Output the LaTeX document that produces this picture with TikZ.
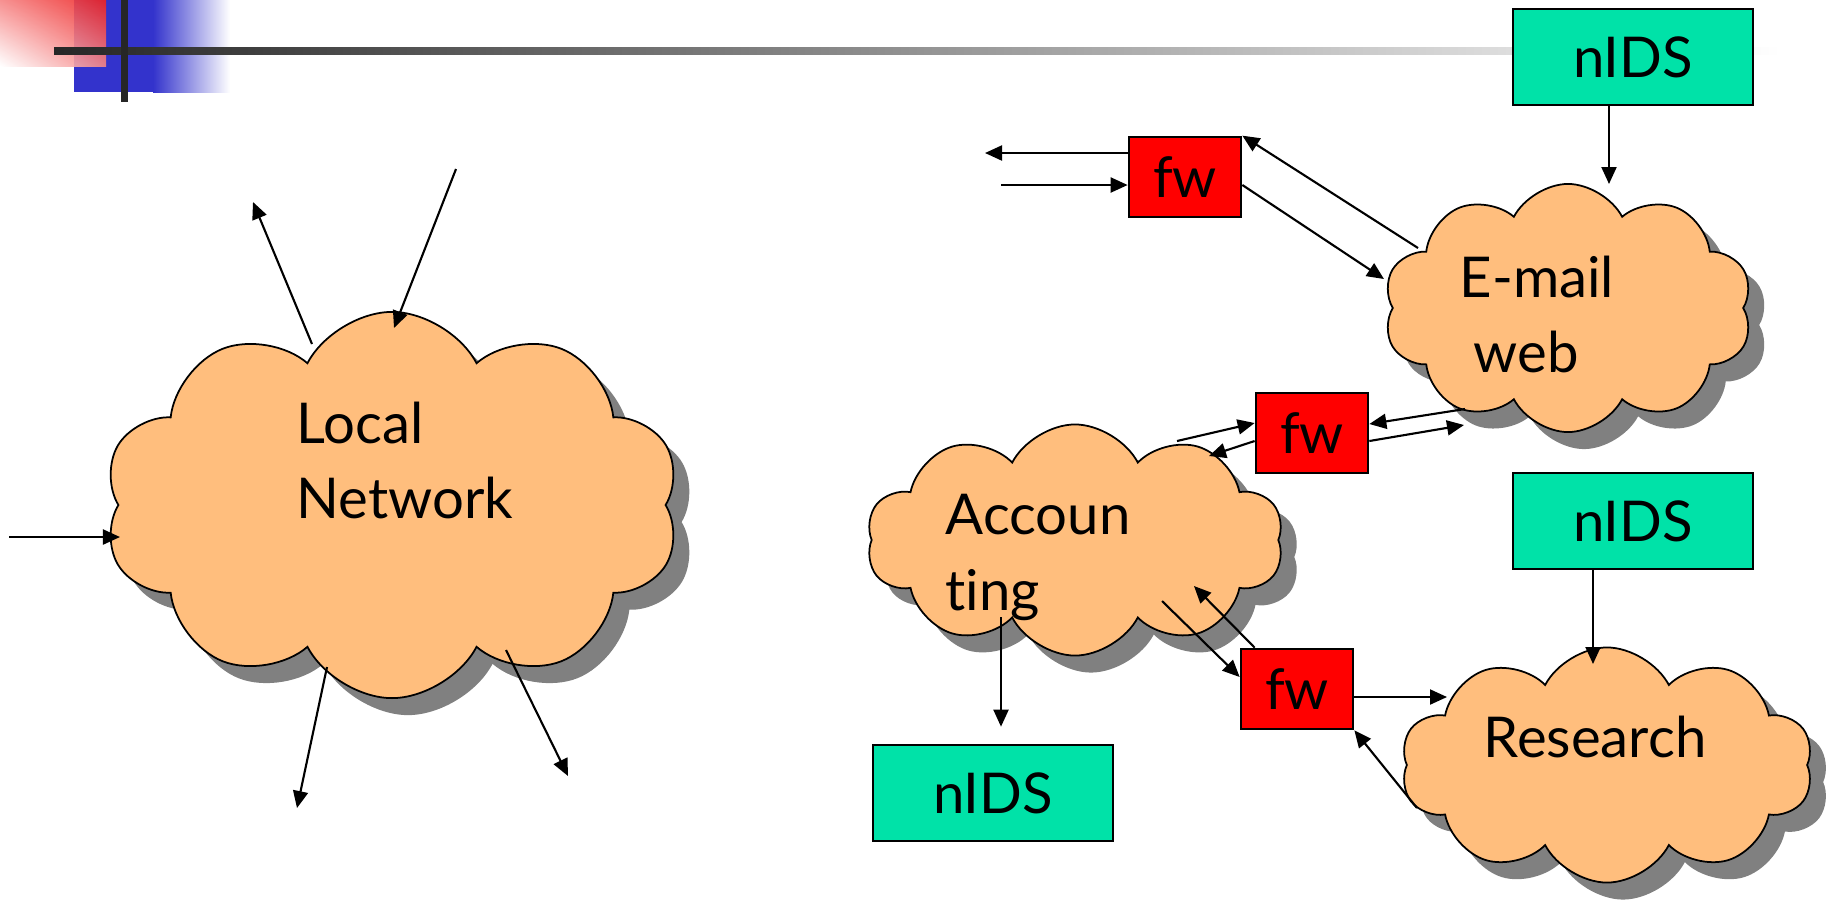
\documentclass[tikz,border=0pt]{standalone}
\usepackage{fontspec}
\setmainfont{Lato}[Ligatures=NoCommon]
\usetikzlibrary{shapes.symbols,shadows,shadings,arrows.meta}
\definecolor{puff}{RGB}{255,190,125}
\definecolor{idsgreen}{RGB}{0,226,168}
\definecolor{hdrblue}{RGB}{51,51,204}
\definecolor{hdrred}{RGB}{238,34,34}
\newcommand{\lblfont}{\fontsize{16}{19}\selectfont}

\begin{document}
\begin{tikzpicture}[x=0.01cm,y=-0.01cm,>={Triangle[length=0.17cm,width=0.15cm]},
  net/.style={cloud,cloud puffs=10,cloud puff arc=125,cloud ignores aspect,draw,line width=0.5pt,fill=puff,
    drop shadow={shadow xshift=0.16cm,shadow yshift=-0.17cm,fill=black!50,opacity=1}},
  fwbox/.style={draw,line width=0.75pt,fill=red,minimum width=1.12cm,minimum height=0.8cm,font=\lblfont},
  idsbox/.style={draw,line width=0.75pt,fill=idsgreen,minimum width=2.4cm,minimum height=0.96cm,font=\lblfont},
  lbl/.style={anchor=base west,inner sep=0pt,font=\lblfont},
  conn/.style={->,line width=0.6pt}]
  \useasboundingbox (0,0) rectangle (1839,902);
  % title bar
  \fill[hdrblue] (74,0) rectangle (153,92);
  \shade[left color=hdrblue,right color=white] (153,0) rectangle (230,92);
  \shade[lower left=white,upper right=hdrred,upper left=hdrred!55,lower right=hdrred!55,opacity=0.9] (0,0) rectangle (106,66);
  \shade[left color=black!85,right color=white] (54,47) rectangle (1780,54);
  \fill[black!85] (121,0) rectangle (128,102);

  % networks
  \node[net,minimum width=5.76cm,minimum height=3.86cm] (lan) at (392,505) {};
  \node[net,minimum width=3.69cm,minimum height=2.48cm] (mail) at (1568,308) {};
  \node[net,minimum width=4.17cm,minimum height=2.31cm] (acc) at (1075,540) {};
  \node[net,minimum width=4.12cm,minimum height=2.35cm] (res) at (1607,765) {};
  \node[lbl] (lan1) at (296,443) {Local};
  \node[lbl] (lan2) at (296,518) {Network};
  \node[lbl] (mail1) at (1459,297) {E-mail};
  \node[lbl] (mail2) at (1473,372) {web};
  \node[lbl] (acc1) at (945,534) {Accoun};
  \node[lbl] (acc2) at (945,610) {ting};
  \node[lbl] (res1) at (1483,757) {Research};

  % firewalls and sensors
  \node[fwbox] (fw1) at (1185,177) {fw};
  \node[fwbox] (fw2) at (1312,433) {fw};
  \node[fwbox] (fw3) at (1297,689) {fw};
  \node[idsbox] (ids1) at (1633,57) {nIDS};
  \node[idsbox] (ids2) at (1633,521) {nIDS};
  \node[idsbox] (ids3) at (993,793) {nIDS};

  % loose ends
  \coordinate (lanup) at (253,202);
  \coordinate (lanin) at (456,169);
  \coordinate (lanleft) at (9,537);
  \coordinate (landn1) at (297,808);
  \coordinate (landn2) at (568,776);
  \coordinate (fwout) at (985,153);
  \coordinate (fwin) at (1001,185);

  \draw[conn] ([shift={(-80,-161)}]lan.center) -- (lanup);
  \draw[conn] (lanin) -- ([shift={(2,-177)}]lan.center);
  \draw[conn] (lanleft) -- ([shift={(-272,32)}]lan.center);
  \draw[conn] ([shift={(-65,162)}]lan.center) -- (landn1);
  \draw[conn] ([shift={(114,145)}]lan.center) -- (landn2);

  \draw[conn] ([shift={(0,-24)}]fw1.west) -- (fwout);
  \draw[conn] (fwin) -- ([shift={(0,8)}]fw1.west);
  \draw[conn] ([shift={(-150,-60)}]mail.center) -- (fw1.north east);
  \draw[conn] ([shift={(0,8)}]fw1.east) -- ([shift={(-184,-29)}]mail.center);
  \draw[conn] ([shift={(-24,0)}]ids1.south) -- ([shift={(41,-124)}]mail.center);

  \draw[conn] ([shift={(-103,101)}]mail.center) -- ([shift={(0,-9)}]fw2.east);
  \draw[conn] ([shift={(0,8)}]fw2.east) -- ([shift={(-104,117)}]mail.center);
  \draw[conn] ([shift={(102,-99)}]acc.center) -- ([shift={(0,-10)}]fw2.west);
  \draw[conn] ([shift={(0,8)}]fw2.west) -- ([shift={(134,-84)}]acc.center);

  \draw[conn] ([shift={(87,61)}]acc.center) -- ([shift={(0,-12)}]fw3.west);
  \draw[conn] ([shift={(15,0)}]fw3.north west) -- ([shift={(119,46)}]acc.center);
  \draw[conn] ([shift={(0,8)}]fw3.east) -- ([shift={(-160,-68)}]res.center);
  \draw[conn] ([shift={(-190,43)}]res.center) -- (fw3.south east);
  \draw[conn] ([shift={(-40,0)}]ids2.south) -- ([shift={(-14,-101)}]res.center);
  \draw[conn] ([shift={(-74,77)}]acc.center) -- ([shift={(8,-17)}]ids3.north);
\end{tikzpicture}
\end{document}
